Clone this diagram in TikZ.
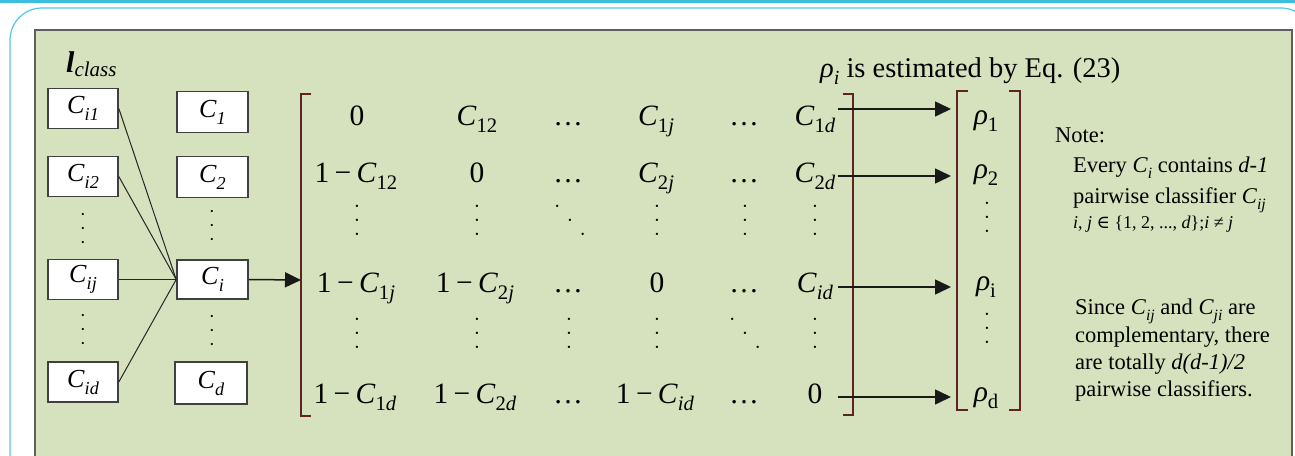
\documentclass[tikz,border=0pt]{standalone}
\usepackage{fontspec}
\setmainfont{Liberation Serif}
\newfontfamily\dvs{DejaVu Serif}
\usetikzlibrary{arrows.meta}
\definecolor{cyanline}{RGB}{60,190,225}
\definecolor{cyanbox}{RGB}{80,200,232}
\definecolor{panel}{RGB}{214,225,189}
\definecolor{panelborder}{RGB}{95,95,95}
\definecolor{brkcol}{RGB}{95,35,35}
\makeatletter
\newcommand\sbx[1]{\raisebox{-0.27em}{\fontsize{\fpeval{0.7*\f@size}}{1}\selectfont #1}}
\makeatother
\newcommand\omc{1\hspace{0.18em}−\hspace{0.18em}}
\newcommand\vdts{\hbox{\raisebox{14pt}{•}\llap{•}\llap{\raisebox{-14pt}{•}}}}
\newcommand\ddts{\hbox{\raisebox{14pt}{•}\kern9.5pt•\kern9.5pt\raisebox{-14pt}{•}}}
\begin{document}
\begin{tikzpicture}[x=1pt,y=-1pt,
  box/.style={draw=black!75, line width=1.6pt, fill=white, minimum width=70pt, minimum height=40pt, inner sep=0pt, font=\fontsize{26}{26}\selectfont},
  mx/.style={anchor=base, inner sep=0pt, font=\fontsize{29.5}{30}\selectfont},
  vd/.style={anchor=center, inner sep=0pt, font=\fontsize{9.5}{10}\selectfont},
  vds/.style={anchor=center, inner sep=0pt, font=\fontsize{9}{10}\selectfont},
  brk/.style={draw=brkcol, line width=1.4pt},
  ln/.style={draw=black!85, line width=1pt},
  arr/.style={draw=black!90, line width=1.5pt, -{Triangle[length=16pt,width=15pt]}},
  nt/.style={anchor=base west, inner sep=0pt, font=\fontsize{22.5}{24}\selectfont},
]
\useasboundingbox (0,0) rectangle (1295,455);
\clip (0,0) rectangle (1295,455);
\fill[white] (0,0) rectangle (1295,455);
% frames
\fill[cyanline] (0,0) rectangle (1295,3);
\draw[cyanbox, line width=1.2pt, rounded corners=32pt, fill=white] (10,480) -- (10,8) -- (1313,8) -- (1313,480);
\draw[panelborder, line width=2pt, fill=panel] (35,30) rectangle (1292,480);

% title labels
\node[anchor=base west, inner sep=0pt] (lcl) at (66,72) {{\fontsize{30}{30}\selectfont\bfseries\itshape l}\raisebox{-4pt}{\fontsize{21}{21}\selectfont\itshape class}};
\node[anchor=base west, inner sep=0pt, font=\fontsize{28.5}{30}\selectfont] (title) at (820,77) {\textit{ρ}\sbx{\textit{i}} is estimated by Eq. (23)};

% left boxes
\node[box] (ci1) at (83,108.5) {\textit{C}\sbx{\textit{i1}}};
\node[box] (ci2) at (83,176.5) {\textit{C}\sbx{\textit{i2}}};
\node[box] (cij) at (83,279.5) {\textit{C}\sbx{\textit{ij}}};
\node[box] (cid) at (83,382) {\textit{C}\sbx{\textit{id}}};
\node[vds] (ldA) at (83,229) {\vdts};
\node[vds] (ldB) at (83,330) {\vdts};
% middle boxes
\node[box, minimum width=71pt, minimum height=41pt] (c1) at (212.5,112) {\textit{C}\sbx{\textit{1}}};
\node[box, minimum width=71pt, minimum height=41pt] (c2) at (212.5,177) {\textit{C}\sbx{\textit{2}}};
\node[box, minimum width=71pt, minimum height=39pt] (ci) at (212.5,279.5) {\textit{C}\sbx{\textit{i}}};
\node[box, minimum width=72pt, minimum height=42pt] (cd) at (211,383) {\textit{C}\sbx{\textit{d}}};
\node[vds] (mdA) at (212,226) {\vdts};
\node[vds] (mdB) at (212,331) {\vdts};

\draw[ln] (ci1.east) -- (ci.west);
\draw[ln] (ci2.east) -- (ci.west);
\draw[ln] (cij.east) -- (ci.west);
\draw[ln] (cid.east) -- (ci.west);

% matrix brackets
\draw[brk] (311,94) -- (301,94) -- (301,416) -- (311,416);
\draw[brk] (843,94) -- (853,94) -- (853,415) -- (843,415);
\coordinate (mL) at (301,280);
\draw[arr] (ci.east) -- (mL);

% matrix entries
\node[mx] (m11) at (357,125) {0};
\node[mx] (m12) at (477,125) {\textit{C}\sbx{12}};
\node[mx] (m13) at (568,125) {…};
\node[mx] (m14) at (656,125) {\textit{C}\sbx{1\textit{j}}};
\node[mx] (m15) at (744,125) {…};
\node[mx] (m16) at (815,125) {\textit{C}\sbx{1\textit{d}}};

\node[mx] (m21) at (356,182) {\omc\textit{C}\sbx{12}};
\node[mx] (m22) at (477,182) {0};
\node[mx] (m23) at (568,182) {…};
\node[mx] (m24) at (656,182) {\textit{C}\sbx{2\textit{j}}};
\node[mx] (m25) at (744,182) {…};
\node[mx] (m26) at (815,182) {\textit{C}\sbx{2\textit{d}}};

\node[vd] (m31) at (357,221) {\vdts};
\node[vd] (m32) at (477,221) {\vdts};
\node[vd] (m33) at (570,221) {\ddts};
\node[vd] (m34) at (657,221) {\vdts};
\node[vd] (m35) at (745,221) {\vdts};
\node[vd] (m36) at (815,221) {\vdts};

\node[mx] (m41) at (356,292) {\omc\textit{C}\sbx{1\textit{j}}};
\node[mx] (m42) at (475,292) {\omc\textit{C}\sbx{2\textit{j}}};
\node[mx] (m43) at (568,292) {…};
\node[mx] (m44) at (657,292) {0};
\node[mx] (m45) at (744,292) {…};
\node[mx] (m46) at (815,292) {\textit{C}\sbx{\textit{id}}};

\node[vd] (m51) at (357,334) {\vdts};
\node[vd] (m52) at (477,334) {\vdts};
\node[vd] (m53) at (569,334) {\vdts};
\node[vd] (m54) at (657,334) {\vdts};
\node[vd] (m55) at (745,334) {\ddts};
\node[vd] (m56) at (815,334) {\vdts};

\node[mx] (m61) at (355,403) {\omc\textit{C}\sbx{1\textit{d}}};
\node[mx] (m62) at (475,403) {\omc\textit{C}\sbx{2\textit{d}}};
\node[mx] (m63) at (568,403) {…};
\node[mx] (m64) at (655,403) {\omc\textit{C}\sbx{\textit{id}}};
\node[mx] (m65) at (744,403) {…};
\node[mx] (m66) at (815,403) {0};

% rho vector
\draw[brk] (968,91) -- (957,91) -- (957,410) -- (968,410);
\draw[brk] (1009,91) -- (1020,91) -- (1020,410) -- (1009,410);
\node[mx] (r1) at (986,124) {\textit{ρ}\sbx{1}};
\node[mx] (r2) at (986,178) {\textit{ρ}\sbx{2}};
\node[vd] (r3) at (987,218) {\vdts};
\node[mx] (r4) at (986,290) {\textit{ρ}\sbx{i}};
\node[vd] (r5) at (987,329) {\vdts};
\node[mx] (r6) at (986,401) {\textit{ρ}\sbx{d}};

\coordinate (a1) at (838,109); \coordinate (b1) at (951,109);
\coordinate (a2) at (838,176); \coordinate (b2) at (951,176);
\coordinate (a3) at (838,287); \coordinate (b3) at (951,287);
\coordinate (a4) at (838,397); \coordinate (b4) at (951,397);
\draw[arr] (a1) -- (b1);
\draw[arr] (a2) -- (b2);
\draw[arr] (a3) -- (b3);
\draw[arr] (a4) -- (b4);

% notes
\node[nt] (n0) at (1055,142) {Note:};
\node[nt] (n1) at (1073,172) {Every \textit{C}\sbx{\textit{i}} contains \textit{d-1}};
\node[nt] (n2) at (1073,203) {pairwise classifier \textit{C}\sbx{\textit{ij}}};
\node[nt, font=\fontsize{18}{20}\selectfont] (n3) at (1073,228) {\textit{i}, \textit{j} {\dvs ∈} \{1, 2, ..., \textit{d}\};\textit{i} ≠ \textit{j}};
\node[nt] (n4) at (1075,314) {Since \textit{C}\sbx{\textit{ij}} and \textit{C}\sbx{\textit{ji}} are};
\node[nt] (n5) at (1075,342) {complementary, there};
\node[nt] (n6) at (1075,369) {are totally \textit{d(d-1)/2}};
\node[nt] (n7) at (1075,396) {pairwise classifiers.};
\end{tikzpicture}
\end{document}
